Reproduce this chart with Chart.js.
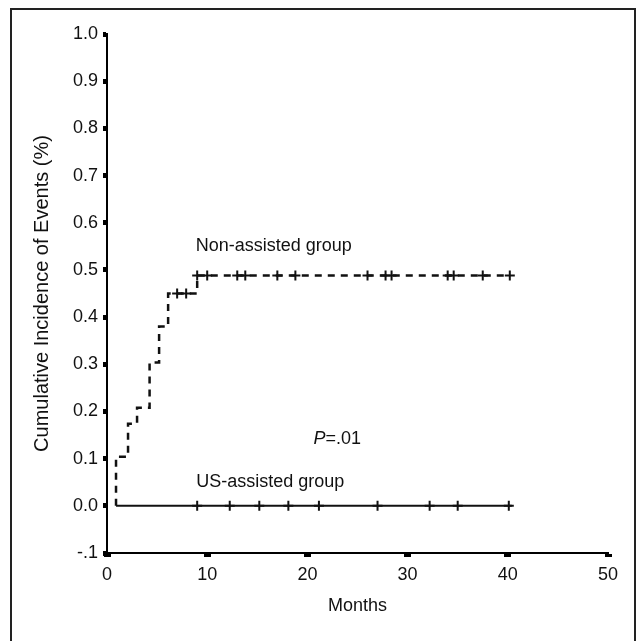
<!DOCTYPE html>
<html>
<head>
<meta charset="utf-8">
<script src="https://cdn.jsdelivr.net/npm/chart.js@4.4.0/dist/chart.umd.min.js"></script>
<style>
  html, body { margin: 0; padding: 0; background: #fff; }
  canvas { display: block; }
</style>
</head>
<body>
<canvas id="chart" width="638" height="641"></canvas>
<script>
// Non-assisted group: step points (months, cumulative incidence)
const nonAssistedMonths    = [0.9, 0.9, 2.1, 3.0, 4.25, 5.2, 6.1, 9.0, 40.2];
const nonAssistedIncidence = [0, 0.104, 0.174, 0.208, 0.304, 0.38, 0.45, 0.488, 0.488];
const nonAssistedCensored  = [7.0, 7.9, 9.0, 10.0, 13.0, 13.8, 17.0, 18.8, 26.0, 27.8, 28.4, 34.0, 34.6, 37.5, 40.2];

// US-assisted group: no events
const usAssistedMonths    = [0.9, 40.4];
const usAssistedIncidence = [0, 0];
const usAssistedCensored  = [9.0, 12.25, 15.2, 18.1, 21.15, 27.0, 32.2, 35.0, 40.1];

const xTickValues = [0, 10, 20, 30, 40, 50];
const yTickValues = [-0.1, 0, 0.1, 0.2, 0.3, 0.4, 0.5, 0.6, 0.7, 0.8, 0.9, 1.0];
const yTickLabels = ['-.1', '0.0', '0.1', '0.2', '0.3', '0.4', '0.5', '0.6', '0.7', '0.8', '0.9', '1.0'];

// level of a step curve at time t
function levelAt(months, values, t) {
    let v = values[0];
    for (let i = 0; i < months.length; i++) {
        if (months[i] <= t) v = values[i];
    }
    return v;
}

const toPoints = (xs, ys) => xs.map((x, i) => ({x: x, y: ys[i]}));
const censorPoints = (ts, xs, ys) => ts.map(t => ({x: t, y: levelAt(xs, ys, t)}));

const FONT = '"Liberation Sans", Arial, Helvetica, sans-serif';

const decorPlugin = {
    id: 'decor',
    beforeDraw(chart) {
        const ctx = chart.ctx;
        ctx.save();
        ctx.strokeStyle = '#222';
        ctx.lineWidth = 2;
        ctx.strokeRect(11, 9, 624, 650);
        ctx.restore();
    },
    afterDatasetsDraw(chart) {
        const {ctx, scales: {x, y}} = chart;
        ctx.save();
        ctx.fillStyle = '#111';
        ctx.textBaseline = 'alphabetic';
        ctx.font = '18px ' + FONT;
        ctx.fillText('Non-assisted group', x.getPixelForValue(8.85), y.getPixelForValue(0.541));
        ctx.fillText('US-assisted group', x.getPixelForValue(8.9), y.getPixelForValue(0.04));
        // P=.01 with italic P
        const px = x.getPixelForValue(20.6), py = y.getPixelForValue(0.13);
        ctx.font = 'italic 18px ' + FONT;
        ctx.fillText('P', px, py);
        const w = ctx.measureText('P').width;
        ctx.font = '18px ' + FONT;
        ctx.fillText('=.01', px + w, py);
        ctx.restore();
    }
};

new Chart(document.getElementById('chart'), {
    type: 'line',
    data: {
        datasets: [
            {
                label: 'Non-assisted group',
                data: toPoints(nonAssistedMonths, nonAssistedIncidence),
                stepped: 'before',
                borderColor: '#111',
                borderWidth: 2.5,
                borderDash: [7, 6],
                pointRadius: 0,
                fill: false
            },
            {
                label: 'Non-assisted censored',
                type: 'scatter',
                data: censorPoints(nonAssistedCensored, nonAssistedMonths, nonAssistedIncidence),
                pointStyle: 'cross',
                pointRadius: 5,
                pointBorderWidth: 2,
                borderColor: '#111',
                showLine: false
            },
            {
                label: 'US-assisted group',
                data: toPoints(usAssistedMonths, usAssistedIncidence),
                stepped: 'before',
                borderColor: '#111',
                borderWidth: 2,
                pointRadius: 0,
                fill: false
            },
            {
                label: 'US-assisted censored',
                type: 'scatter',
                data: censorPoints(usAssistedCensored, usAssistedMonths, usAssistedIncidence),
                pointStyle: 'cross',
                pointRadius: 5,
                pointBorderWidth: 2,
                borderColor: '#111',
                showLine: false
            }
        ]
    },
    options: {
        responsive: false,
        animation: false,
        devicePixelRatio: 1,
        layout: {padding: {top: 34, right: 30, bottom: 0, left: 0}},
        plugins: {
            legend: {display: false},
            tooltip: {enabled: false}
        },
        scales: {
            x: {
                type: 'linear',
                min: 0,
                max: 50,
                afterBuildTicks: s => { s.ticks = xTickValues.map(v => ({value: v})); },
                afterFit: s => { s.height = 88; },
                grid: {drawOnChartArea: false, drawTicks: true, tickLength: 4, tickWidth: 7, tickColor: '#000'},
                border: {display: true, color: '#000', width: 2},
                ticks: {color: '#111', padding: 7, font: {family: FONT, size: 18}, maxRotation: 0},
                title: {display: true, text: 'Months', color: '#111', font: {family: FONT, size: 18}, padding: {top: 0, bottom: 24}}
            },
            y: {
                type: 'linear',
                min: -0.1,
                max: 1.0,
                afterBuildTicks: s => { s.ticks = yTickValues.map(v => ({value: v})); },
                afterFit: s => { s.width = 107; },
                grid: {drawOnChartArea: false, drawTicks: true, tickLength: 4, tickWidth: 5, tickColor: '#000'},
                border: {display: true, color: '#000', width: 2},
                ticks: {
                    color: '#111', padding: 5, font: {family: FONT, size: 18},
                    callback: (v, i) => yTickLabels[i]
                },
                title: {display: true, text: 'Cumulative Incidence of Events (%)', color: '#111', font: {family: FONT, size: 20}, padding: {top: 30, bottom: 0}}
            }
        }
    },
    plugins: [decorPlugin]
});
</script>
</body>
</html>
